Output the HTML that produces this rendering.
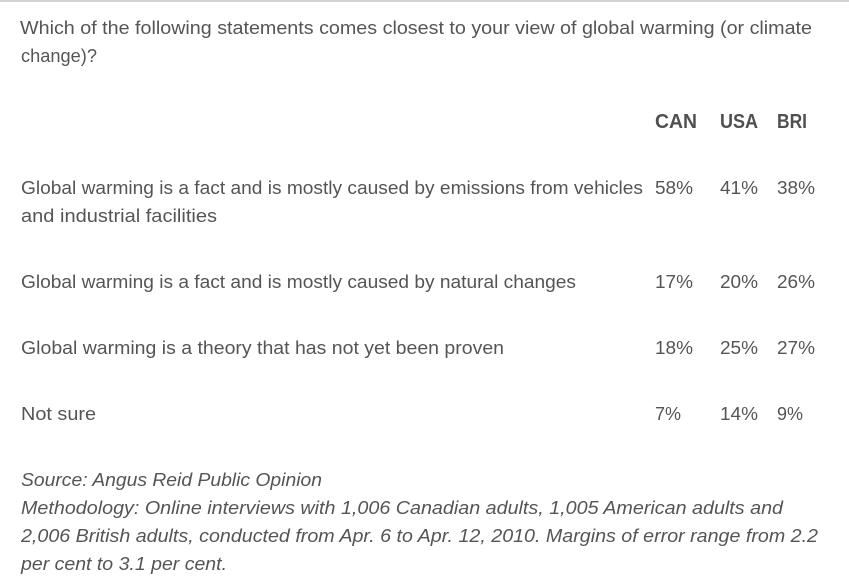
<!DOCTYPE html>
<html>
<head>
<meta charset="utf-8">
<style>
  html, body { margin: 0; padding: 0; background: #fff; }
  body { width: 849px; height: 587px; overflow: hidden; }
  svg { display: block; }
  text { font-family: "Liberation Sans", sans-serif; fill: #555; font-size: 18.5px; }
  .b { font-weight: bold; font-size: 20px; fill: #505050; }
  .i { font-style: italic; }
</style>
</head>
<body>
<svg width="849" height="587" viewBox="0 0 849 587" xmlns="http://www.w3.org/2000/svg">
  <rect x="0" y="0" width="849" height="587" fill="#fff"/>
  <rect x="0" y="0" width="849" height="2" fill="#d2d2d2"/>

  <text x="20" y="34" textLength="792" lengthAdjust="spacingAndGlyphs">Which of the following statements comes closest to your view of global warming (or climate</text>
  <text x="21" y="62" textLength="76" lengthAdjust="spacingAndGlyphs">change)?</text>

  <text class="b" x="655" y="128" textLength="42" lengthAdjust="spacingAndGlyphs">CAN</text>
  <text class="b" x="720" y="128" textLength="38" lengthAdjust="spacingAndGlyphs">USA</text>
  <text class="b" x="777" y="128" textLength="30" lengthAdjust="spacingAndGlyphs">BRI</text>

  <text x="21" y="194" textLength="622" lengthAdjust="spacingAndGlyphs">Global warming is a fact and is mostly caused by emissions from vehicles</text>
  <text x="21" y="222" textLength="196" lengthAdjust="spacingAndGlyphs">and industrial facilities</text>
  <text x="655" y="194" textLength="38" lengthAdjust="spacingAndGlyphs">58%</text>
  <text x="720" y="194" textLength="38" lengthAdjust="spacingAndGlyphs">41%</text>
  <text x="777" y="194" textLength="38" lengthAdjust="spacingAndGlyphs">38%</text>

  <text x="21" y="288" textLength="555" lengthAdjust="spacingAndGlyphs">Global warming is a fact and is mostly caused by natural changes</text>
  <text x="655" y="288" textLength="38" lengthAdjust="spacingAndGlyphs">17%</text>
  <text x="720" y="288" textLength="38" lengthAdjust="spacingAndGlyphs">20%</text>
  <text x="777" y="288" textLength="38" lengthAdjust="spacingAndGlyphs">26%</text>

  <text x="21" y="354" textLength="483" lengthAdjust="spacingAndGlyphs">Global warming is a theory that has not yet been proven</text>
  <text x="655" y="354" textLength="38" lengthAdjust="spacingAndGlyphs">18%</text>
  <text x="720" y="354" textLength="38" lengthAdjust="spacingAndGlyphs">25%</text>
  <text x="777" y="354" textLength="38" lengthAdjust="spacingAndGlyphs">27%</text>

  <text x="21" y="420" textLength="75" lengthAdjust="spacingAndGlyphs">Not sure</text>
  <text x="655" y="420" textLength="26" lengthAdjust="spacingAndGlyphs">7%</text>
  <text x="720" y="420" textLength="38" lengthAdjust="spacingAndGlyphs">14%</text>
  <text x="777" y="420" textLength="26" lengthAdjust="spacingAndGlyphs">9%</text>

  <text class="i" x="21" y="486" textLength="301" lengthAdjust="spacingAndGlyphs">Source: Angus Reid Public Opinion</text>
  <text class="i" x="21" y="514" textLength="762" lengthAdjust="spacingAndGlyphs">Methodology: Online interviews with 1,006 Canadian adults, 1,005 American adults and</text>
  <text class="i" x="21" y="542" textLength="797" lengthAdjust="spacingAndGlyphs">2,006 British adults, conducted from Apr. 6 to Apr. 12, 2010. Margins of error range from 2.2</text>
  <text class="i" x="21" y="570" textLength="206" lengthAdjust="spacingAndGlyphs">per cent to 3.1 per cent.</text>
</svg>
</body>
</html>
